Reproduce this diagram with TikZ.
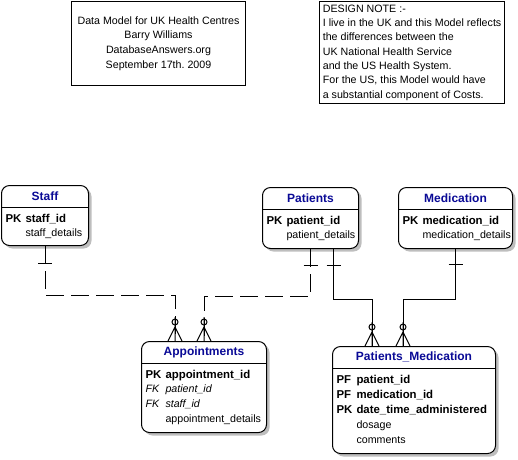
\documentclass[tikz,border=0pt]{standalone}
\usepackage{fontspec}
\setmainfont{Liberation Sans}
\usetikzlibrary{shadows}
\definecolor{entityblue}{RGB}{10,10,150}
\definecolor{shadowgray}{RGB}{190,190,190}

\begin{document}
\begin{tikzpicture}[x=1pt, y=-1pt, line width=1pt,
	entity/.style={ draw, rounded corners=8pt, fill=white, anchor=north west, inner sep=0pt,
		drop shadow={ shadow xshift=3pt, shadow yshift=-3pt, fill=shadowgray, opacity=1 } },
	enttitle/.style={ text=entityblue, font=\fontsize{12}{14}\selectfont\bfseries },
	keyrow/.style={ anchor=base west, inner sep=0pt, font=\fontsize{11.4}{13}\selectfont\bfseries },
	attrow/.style={ anchor=base west, inner sep=0pt, font=\fontsize{10.67}{13}\selectfont },
	fkrow/.style={ anchor=base west, inner sep=0pt, font=\fontsize{10.67}{13}\selectfont\itshape },
	textbox/.style={ draw, anchor=north west, font=\fontsize{10.67}{14.6}\selectfont },
	optional/.style={ dash pattern=on 18pt off 7pt },
	]
	\useasboundingbox (0,0) rectangle (518,459);
	% Title box
	\node[ textbox, minimum width=174pt, minimum height=84pt, align=center ] (credits) at (71,1)
		{Data Model for UK Health Centres\\Barry Williams\\DatabaseAnswers.org\\September 17th.\ 2009};
	% Design note
	\node[ textbox, minimum width=185pt, minimum height=99pt, align=left,
		font=\fontsize{10.67}{14.33}\selectfont ] (note) at (319,1)
		{DESIGN NOTE :-\\I live in the UK and this Model reflects\\the differences between the\\UK National Health Service\\and the US Health System.\\For the US, this Model would have\\a substantial component of Costs.};
	% Staff
	\node[ entity, minimum width=87pt, minimum height=60pt ] (staff) at (1,185) {};
	\draw ([yshift=-22pt]staff.north west) -- ([yshift=-22pt]staff.north east);
	\node[ enttitle ] (staff-title) at ([yshift=-11pt]staff.north) {Staff};
	\node[ keyrow ] (staff-pk) at ([xshift=4pt,yshift=-37pt]staff.north west) {PK};
	\node[ keyrow ] (staff-id) at ([xshift=24pt,yshift=-37pt]staff.north west) {staff\_id};
	\node[ attrow ] (staff-details) at ([xshift=24pt,yshift=-51.7pt]staff.north west) {staff\_details};
	% Patients
	\node[ entity, minimum width=96pt, minimum height=61pt ] (patients) at (262,187) {};
	\draw ([yshift=-22pt]patients.north west) -- ([yshift=-22pt]patients.north east);
	\node[ enttitle ] (patients-title) at ([yshift=-11pt]patients.north) {Patients};
	\node[ keyrow ] (patients-pk) at ([xshift=4pt,yshift=-37pt]patients.north west) {PK};
	\node[ keyrow ] (patients-id) at ([xshift=24pt,yshift=-37pt]patients.north west) {patient\_id};
	\node[ attrow ] (patients-details) at ([xshift=24pt,yshift=-51.7pt]patients.north west) {patient\_details};
	% Medication
	\node[ entity, minimum width=114pt, minimum height=61pt ] (medic) at (398,187) {};
	\draw ([yshift=-22pt]medic.north west) -- ([yshift=-22pt]medic.north east);
	\node[ enttitle ] (medic-title) at ([yshift=-11pt]medic.north) {Medication};
	\node[ keyrow ] (medic-pk) at ([xshift=4pt,yshift=-37pt]medic.north west) {PK};
	\node[ keyrow ] (medic-id) at ([xshift=24pt,yshift=-37pt]medic.north west) {medication\_id};
	\node[ attrow ] (medic-details) at ([xshift=24pt,yshift=-51.7pt]medic.north west) {medication\_details};
	% Appointments
	\node[ entity, minimum width=125pt, minimum height=91pt ] (appt) at (141,341) {};
	\draw ([yshift=-22pt]appt.north west) -- ([yshift=-22pt]appt.north east);
	\node[ enttitle ] (appt-title) at ([yshift=-11pt]appt.north) {Appointments};
	\node[ keyrow ] (appt-pk) at ([xshift=4pt,yshift=-37pt]appt.north west) {PK};
	\node[ keyrow ] (appt-id) at ([xshift=24pt,yshift=-37pt]appt.north west) {appointment\_id};
	\node[ fkrow ] (appt-fk1) at ([xshift=4pt,yshift=-51.7pt]appt.north west) {FK};
	\node[ fkrow ] (appt-patient-id) at ([xshift=24pt,yshift=-51.7pt]appt.north west) {patient\_id};
	\node[ fkrow ] (appt-fk2) at ([xshift=4pt,yshift=-66.4pt]appt.north west) {FK};
	\node[ fkrow ] (appt-staff-id) at ([xshift=24pt,yshift=-66.4pt]appt.north west) {staff\_id};
	\node[ attrow ] (appt-details) at ([xshift=24pt,yshift=-81.1pt]appt.north west) {appointment\_details};
	% Patients_Medication
	\node[ entity, minimum width=163pt, minimum height=107pt ] (pm) at (332,346) {};
	\draw ([yshift=-22pt]pm.north west) -- ([yshift=-22pt]pm.north east);
	\node[ enttitle ] (pm-title) at ([yshift=-11pt]pm.north) {Patients\_Medication};
	\node[ keyrow ] (pm-pf1) at ([xshift=4pt,yshift=-37pt]pm.north west) {PF};
	\node[ keyrow ] (pm-patient-id) at ([xshift=24pt,yshift=-37pt]pm.north west) {patient\_id};
	\node[ keyrow ] (pm-pf2) at ([xshift=4pt,yshift=-52pt]pm.north west) {PF};
	\node[ keyrow ] (pm-medic-id) at ([xshift=24pt,yshift=-52pt]pm.north west) {medication\_id};
	\node[ keyrow ] (pm-pk) at ([xshift=4pt,yshift=-67pt]pm.north west) {PK};
	\node[ keyrow ] (pm-when) at ([xshift=24pt,yshift=-67pt]pm.north west) {date\_time\_administered};
	\node[ attrow ] (pm-dosage) at ([xshift=24pt,yshift=-82pt]pm.north west) {dosage};
	\node[ attrow ] (pm-comments) at ([xshift=24pt,yshift=-97pt]pm.north west) {comments};
	% Connector ends
	\coordinate (appt-staff) at ([xshift=-29pt]appt.north);
	\coordinate (appt-patient) at (appt.north);
	\coordinate (pm-patient) at ([xshift=-42pt]pm.north);
	\coordinate (pm-medic) at ([xshift=-11pt]pm.north);
	\coordinate (patients-pm) at ([xshift=23pt]patients.south);
	% Staff to Appointments
	\draw[ optional ] (staff.south) -- ++(0,49) -| (appt-staff);
	\draw ([yshift=-17pt]staff.south) ++(-7,0) -- ++(14,0);
	% Patients to Appointments
	\draw[ optional ] (patients.south) -- ++(0,47) -| (appt-patient);
	\draw ([yshift=-16pt]patients.south) ++(-7,0) -- ++(14,0);
	% Patients to Patients_Medication
	\draw (patients-pm) -- ++(0,50) -| (pm-patient);
	\draw ([yshift=-16pt]patients-pm) ++(-7,0) -- ++(14,0);
	% Medication to Patients_Medication
	\draw (medic.south) -- ++(0,50) -| (pm-medic);
	\draw ([yshift=-15pt]medic.south) ++(-7,0) -- ++(14,0);
	% Zero or many feet
	\draw (appt-staff) -- ++(0,-24) (appt-staff) ++(-7,0) -- ++(7,-14) -- ++(7,14);
	\draw ([yshift=19pt]appt-staff) circle (3pt);
	\draw (appt-patient) -- ++(0,-24) (appt-patient) ++(-7,0) -- ++(7,-14) -- ++(7,14);
	\draw ([yshift=19pt]appt-patient) circle (3pt);
	\draw (pm-patient) -- ++(0,-24) (pm-patient) ++(-7,0) -- ++(7,-14) -- ++(7,14);
	\draw ([yshift=19pt]pm-patient) circle (3pt);
	\draw (pm-medic) -- ++(0,-24) (pm-medic) ++(-7,0) -- ++(7,-14) -- ++(7,14);
	\draw ([yshift=19pt]pm-medic) circle (3pt);
\end{tikzpicture}
\end{document}
